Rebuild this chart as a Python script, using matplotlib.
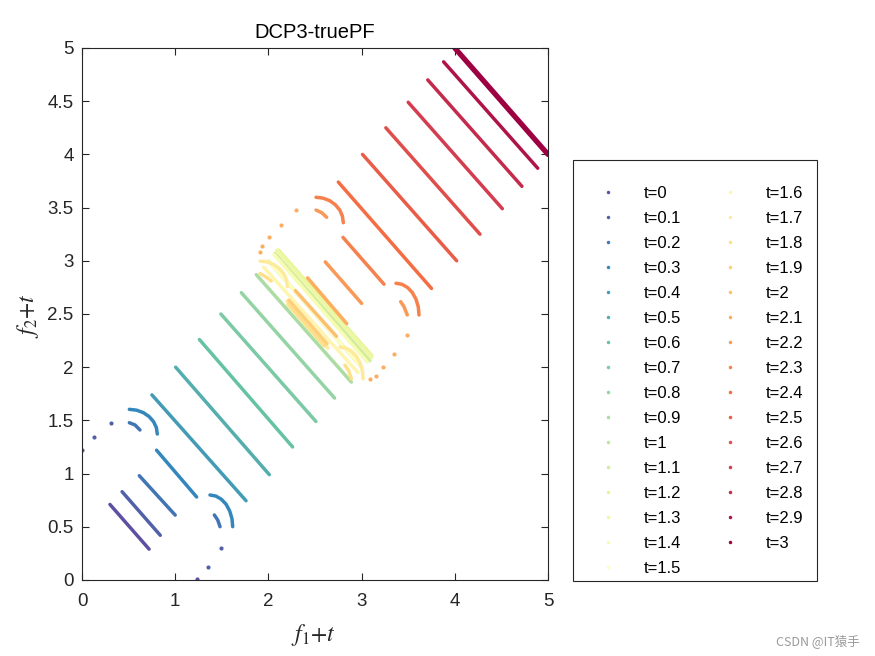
import numpy as np
import matplotlib
matplotlib.use('Agg')
import matplotlib.pyplot as plt
from matplotlib.lines import Line2D
from matplotlib.patches import Rectangle
from matplotlib.ticker import FormatStrFormatter

# ---------------- data ----------------
t_labels = ['0', '0.1', '0.2', '0.3', '0.4', '0.5', '0.6', '0.7', '0.8', '0.9',
            '1', '1.1', '1.2', '1.3', '1.4', '1.5', '1.6', '1.7', '1.8', '1.9',
            '2', '2.1', '2.2', '2.3', '2.4', '2.5', '2.6', '2.7', '2.8', '2.9', '3']

# straight part of each front: (x0, y0) -> (x1, y1)
seg_x0 = [0.30, 0.43, 0.615, 0.80, 0.75, 1.005, 1.26, 1.49, 1.71, 1.87,
          2.00, 2.07, 2.11, 2.09, 2.06, 2.00, 1.95, 2.20, 2.21, 2.22,
          2.29, 2.42, 2.61, 2.80, 2.75, 3.01, 3.26, 3.50, 3.71, 3.88, 4.00]
seg_y0 = [0.71, 0.83, 0.98, 1.22, 1.74, 2.00, 2.26, 2.50, 2.70, 2.87,
          3.00, 3.07, 3.10, 3.10, 3.06, 3.00, 2.94, 2.62, 2.59, 2.63,
          2.72, 2.84, 2.99, 3.22, 3.74, 4.00, 4.25, 4.49, 4.70, 4.87, 5.00]
seg_x1 = [0.72, 0.84, 1.00, 1.23, 1.76, 2.01, 2.26, 2.51, 2.71, 2.89,
          3.00, 3.09, 3.11, 3.11, 3.06, 3.01, 2.96, 2.64, 2.60, 2.63,
          2.73, 2.84, 3.00, 3.24, 3.75, 4.02, 4.27, 4.51, 4.72, 4.89, 5.00]
seg_y1 = [0.29, 0.42, 0.61, 0.78, 0.745, 0.99, 1.25, 1.49, 1.71, 1.86,
          2.00, 2.06, 2.11, 2.09, 2.05, 1.99, 1.95, 2.18, 2.20, 2.22,
          2.29, 2.41, 2.60, 2.78, 2.74, 3.00, 3.25, 3.49, 3.70, 3.87, 4.00]

# curved pieces: index of t, and points read along each arc
arc_t = [3, 2, 3, 2,
         17, 18, 17, 18,
         23, 22, 23, 22]
arc_x = [[0.508, 0.586, 0.658, 0.720, 0.768, 0.798, 0.808], [0.508, 0.569, 0.622],
         [1.373, 1.436, 1.495, 1.546, 1.584, 1.609, 1.617], [1.420, 1.456, 1.481],
         [1.911, 1.987, 2.058, 2.118, 2.165, 2.194, 2.204], [1.91, 1.97, 2.03],
         [2.769, 2.833, 2.893, 2.944, 2.983, 3.008, 3.016], [2.82, 2.86, 2.89],
         [2.511, 2.587, 2.658, 2.718, 2.765, 2.794, 2.804], [2.511, 2.572, 2.625],
         [3.369, 3.433, 3.493, 3.544, 3.583, 3.608, 3.616], [3.419, 3.455, 3.490]]
arc_y = [[1.604, 1.596, 1.573, 1.536, 1.488, 1.432, 1.372], [1.478, 1.457, 1.410],
         [0.799, 0.789, 0.759, 0.712, 0.650, 0.578, 0.501], [0.611, 0.564, 0.501],
         [2.997, 2.989, 2.965, 2.927, 2.878, 2.820, 2.758], [2.88, 2.85, 2.81],
         [2.189, 2.179, 2.149, 2.102, 2.040, 1.968, 1.891], [2.02, 1.97, 1.89],
         [3.597, 3.589, 3.565, 3.527, 3.478, 3.420, 3.358], [3.477, 3.452, 3.409],
         [2.789, 2.779, 2.749, 2.702, 2.640, 2.568, 2.491], [2.616, 2.569, 2.491]]

# isolated points
dot_t = [0, 1, 1, 0, 1, 1,
         21, 21, 21, 21, 21, 21, 21, 21, 21, 21]
dot_x = [0.00, 0.13, 0.31, 1.23, 1.35, 1.49,
         1.91, 1.93, 2.01, 2.13, 2.30, 3.09, 3.15, 3.23, 3.35, 3.49]
dot_y = [1.22, 1.34, 1.48, 0.01, 0.125, 0.30,
         3.08, 3.14, 3.22, 3.34, 3.48, 1.89, 1.92, 2.00, 2.12, 2.30]

# ---------------- figure ----------------
plt.rcParams['font.family'] = ['Liberation Sans', 'DejaVu Sans']
plt.rcParams['mathtext.fontset'] = 'stix'

W, H = 875, 656
fig = plt.figure(figsize=(W / 100, H / 100), dpi=100)
ax = fig.add_axes([82 / W, 76 / H, 466 / W, 532 / H])

n = len(t_labels)
colors = plt.get_cmap('Spectral_r')(np.linspace(0, 1, n))

for i in range(n):
    lw = 3.8 if i == n - 1 else 2.5
    ax.plot([seg_x0[i], seg_x1[i]], [seg_y0[i], seg_y1[i]], color=colors[i],
            lw=lw, solid_capstyle='round', zorder=2 + i * 0.01)
    for k in range(len(arc_t)):
        if arc_t[k] == i:
            ax.plot(arc_x[k], arc_y[k], color=colors[i], lw=2.5,
                    solid_capstyle='round', solid_joinstyle='round', zorder=2 + i * 0.01)
    for k in range(len(dot_t)):
        if dot_t[k] == i:
            ax.plot(dot_x[k], dot_y[k], 'o', ms=3.0, mew=0, color=colors[i],
                    zorder=2 + i * 0.01, clip_on=True)

ax.set_xlim(0, 5)
ax.set_ylim(0, 5)
ax.set_xticks(np.arange(0, 5.01, 1))
ax.set_yticks(np.arange(0, 5.01, 0.5))
ax.yaxis.set_major_formatter(FormatStrFormatter('%g'))
ax.tick_params(direction='in', top=True, right=True, length=5, width=0.8,
               labelsize=13.5, colors='#262626')
ax.tick_params(axis='x', pad=9)
ax.tick_params(axis='y', pad=6)
for s in ax.spines.values():
    s.set_color('#262626')
    s.set_linewidth(0.8)

ax.set_title('DCP3-truePF', fontsize=14.5, color='black', pad=7)
ax.set_xlabel(r'$f_{\mathit{1}}{+}t$', fontsize=17, color='#262626')
ax.set_ylabel(r'$f_{\mathit{2}}{+}t$', fontsize=17, color='#262626')
ax.xaxis.set_label_coords((313 - 82) / 466, (580 - 635) / 532)
ax.xaxis.label.set_va('center')
ax.yaxis.set_label_coords((28 - 82) / 466, (580 - 316) / 532)
ax.yaxis.label.set_va('center')

# legend
handles = [Line2D([], [], ls='', marker='o', ms=2.5, mew=0, color=colors[i]) for i in range(n)]
labels = ['t=' + s for s in t_labels]
leg = fig.legend(handles, labels, ncol=2, loc='upper left',
                 bbox_to_anchor=(0.672, 0.717), frameon=False, fontsize=12,
                 handlelength=2.4, handletextpad=0.95, columnspacing=1.74,
                 labelspacing=0.60, borderpad=0.0, borderaxespad=0.0)
fig.patches.append(Rectangle((573 / W, 1 - 581 / H), 244 / W, 421 / H,
                             transform=fig.transFigure, fill=False,
                             edgecolor='#262626', lw=0.8))

fig.text(860 / W, 1 - 641 / H, 'CSDN @IT猿手', ha='right', va='center', fontsize=9,
         color='#9a9a9a', family=['Noto Sans CJK SC', 'DejaVu Sans'])

fig.savefig('out.png', dpi=100)
